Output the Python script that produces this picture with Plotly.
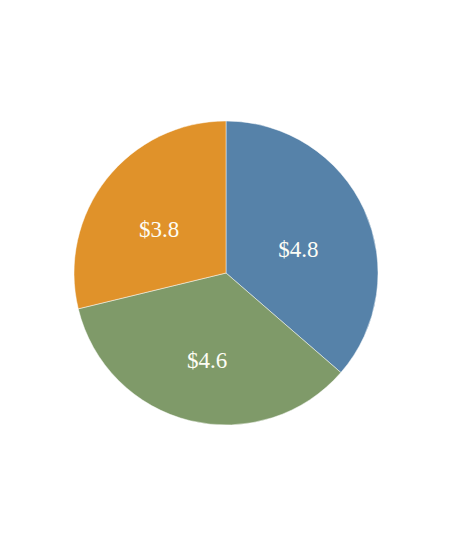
import plotly.graph_objects as go

labels = ["A", "B", "C"]
values = [4.8, 4.6, 3.8]
text_labels = ["$4.8", "$4.6", "$3.8"]
colors = ["#5682a9", "#7f9a69", "#e0922a"]

# a small blank first line nudges each label down a little, as in the reference
display_text = ["<span style='font-size:10px'> </span><br>" + t for t in text_labels]

fig = go.Figure(go.Pie(
    labels=labels,
    values=values,
    text=display_text,
    textinfo="text",
    textposition="inside",
    insidetextorientation="horizontal",
    sort=False,
    direction="clockwise",
    rotation=0,
    marker=dict(colors=colors, line=dict(color="rgba(255,255,255,0.6)", width=0.8)),
    textfont=dict(family="Liberation Serif, Times New Roman, serif", size=23, color="#fdfdf5"),
    hoverinfo="none",
))
fig.update_layout(
    width=450, height=548,
    margin=dict(l=65, r=79, t=113, b=131),
    showlegend=False,
    paper_bgcolor="white",
    plot_bgcolor="white",
)
fig.write_html("out.html")
